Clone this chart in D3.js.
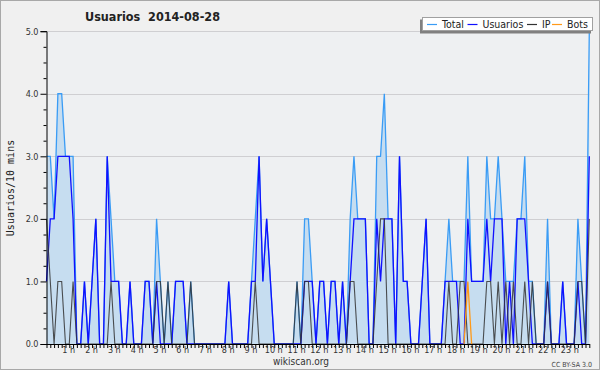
<!DOCTYPE html>
<html>
<head>
<meta charset="utf-8">
<script src="https://cdn.jsdelivr.net/npm/d3@7"></script>
<style>
  body { margin: 0; background: #f0f0f0; }
  svg { display: block; }
</style>
</head>
<body>
<div id="chart"></div>
<script>
// DATA: one value per 10 minutes, 144 slots from 00:00
const total = [3,3,2,4,4,3,3,3,0,0, 1,0,1,2,0,0,3,2,1,1, 0,0,1,0,0,0,1,1,0,2,
  1,0,1,0,1,1,1,0,1,0, 0,0,0,0,0,0,0,0,1,0, 0,0,0,0,1,2,3,1,2,1,
  0,0,0,0,0,0,1,0,2,2, 1,0,1,1,0,1,1,0,1,0, 2,3,2,2,2,0,0,3,3,4,
  2,2,0,3,1,1,0,0,0,1, 2,0,0,0,0,1,2,1,1,1, 1,3,1,1,1,1,3,2,2,3,
  2,1,1,1,2,2,3,1,1,0, 0,0,2,0,0,0,1,0,0,0, 2,1,0,5];
const usuarios = [1,2,2,3,3,3,3,2,0,0, 1,0,1,2,0,0,3,1,1,1, 0,0,1,0,0,0,1,1,0,1,
  0,0,0,0,1,1,1,0,0,0, 0,0,0,0,0,0,0,0,1,0, 0,0,0,0,1,1,3,1,2,1,
  0,0,0,0,0,0,0,0,1,1, 1,0,1,1,0,1,1,0,1,0, 1,2,2,2,2,0,0,2,1,2,
  2,2,0,3,1,1,0,0,0,1, 2,0,0,0,0,1,1,1,1,0, 0,2,1,1,1,1,2,1,2,2,
  2,0,1,0,2,2,2,1,0,0, 0,0,1,0,0,0,1,0,0,0, 1,0,0,3];
const ip = [2,1,0,1,1,0,0,1,0,0, 0,0,0,0,0,0,0,1,0,0, 0,0,0,0,0,0,0,0,0,1,
  1,0,1,0,0,0,0,0,1,0, 0,0,0,0,0,0,0,0,0,0, 0,0,0,0,0,1,0,0,0,0,
  0,0,0,0,0,0,1,0,1,1, 0,0,0,0,0,0,0,0,0,0, 1,1,0,0,0,0,0,1,2,2,
  0,0,0,0,0,0,0,0,0,0, 0,0,0,0,0,0,1,0,0,1, 1,0,0,0,0,0,1,1,0,1,
  0,1,0,1,0,0,1,0,1,0, 0,0,1,0,0,0,0,0,0,0, 1,1,0,2];
// bots: single non-zero slot (18:30)
const botsSlots = [110, 111, 112];
const botsValues = [0, 1, 0];
const hours = d3.range(1, 24);
const yTicks = [0, 1, 2, 3, 4, 5];
const legendItems = [
  { name: "Total", color: "#3a9cf5" },
  { name: "Usuarios", color: "#1010ff" },
  { name: "IP", color: "#333333" },
  { name: "Bots", color: "#ff9a1a" }
];

// SET GLOBAL VARIABLES
const W = 600, H = 370;
const plot = { left: 46.5, right: 589.3, top: 31.2, bottom: 344 };
const sans = "'DejaVu Sans Condensed', 'DejaVu Sans', sans-serif";

const svg = d3.select("#chart")
  .append("svg")
  .attr("width", W)
  .attr("height", H)
  .style("font-family", sans)
  .style("font-stretch", "condensed");

// background and frame
svg.append("rect").attr("width", W).attr("height", H).attr("fill", "#f0f0f0");
svg.append("rect")
  .attr("x", 0.5).attr("y", 0.5).attr("width", W - 1).attr("height", H - 1)
  .attr("fill", "none").attr("stroke", "#a8a8a8");
svg.append("rect")
  .attr("x", plot.left).attr("y", plot.top)
  .attr("width", plot.right - plot.left).attr("height", plot.bottom - plot.top)
  .attr("fill", "#eef0f2");

// Set scales
const x = d3.scaleLinear().domain([0, total.length - 1]).range([plot.left, plot.right]);
const y = d3.scaleLinear().domain([0, 5]).range([plot.bottom, plot.top]);

// grid lines
svg.append("g")
  .selectAll("line")
  .data(yTicks.filter(d => d > 0))
  .join("line")
  .attr("x1", plot.left).attr("x2", plot.right)
  .attr("y1", d => Math.round(y(d)) + 0.5).attr("y2", d => Math.round(y(d)) + 0.5)
  .attr("stroke", "#cfcfd2");

// Total area + lines
const idx = d3.range(total.length);
svg.append("path")
  .datum(idx)
  .attr("fill", "#c6ddf0")
  .attr("d", d3.area().x(i => x(i)).y0(y(0)).y1(i => y(total[i])));

const line = arr => d3.line().x(i => x(i)).y(i => y(arr[i]));

svg.append("path").datum(idx)
  .attr("fill", "none").attr("stroke", legendItems[0].color).attr("stroke-width", 1.3)
  .attr("d", line(total));
svg.append("path").datum(idx)
  .attr("fill", "none").attr("stroke", legendItems[1].color).attr("stroke-width", 1.3)
  .attr("d", line(usuarios));
svg.append("path").datum(idx)
  .attr("fill", "none").attr("stroke", legendItems[2].color).attr("stroke-width", 1.1)
  .attr("stroke-opacity", 0.85)
  .attr("d", line(ip));
svg.append("path").datum(d3.range(botsSlots.length))
  .attr("fill", "none").attr("stroke", legendItems[3].color).attr("stroke-width", 1.3)
  .attr("d", d3.line().x(k => x(botsSlots[k])).y(k => y(botsValues[k])));

// Draw Y axis
svg.append("g")
  .attr("transform", `translate(${plot.left},0)`)
  .call(d3.axisLeft(y).tickValues(yTicks).tickFormat(d3.format(".1f")).tickSize(6).tickPadding(2));
svg.append("g")
  .attr("transform", `translate(${plot.left},0)`)
  .call(d3.axisLeft(y).tickValues(d3.range(0, 5, 0.25).filter(d => d % 1 !== 0)).tickFormat("").tickSize(3))
  .call(g => g.select(".domain").remove());

// Draw X axis (10 min ticks + hour labels)
svg.append("g")
  .attr("transform", `translate(0,${plot.bottom})`)
  .call(d3.axisBottom(x).tickValues(idx).tickFormat("").tickSize(4).tickSizeOuter(0));
svg.append("g")
  .attr("transform", `translate(0,${plot.bottom})`)
  .call(d3.axisBottom(x).tickValues(hours.map(h => h * 6)).tickFormat(d => `${d / 6} h`).tickSize(0).tickPadding(3))
  .call(g => g.select(".domain").remove())
  .selectAll("text").attr("dx", -1);

svg.selectAll(".domain").attr("stroke", "#000");
svg.selectAll(".tick line").attr("stroke", "#000");
svg.selectAll(".tick text")
  .attr("fill", "#333")
  .style("font-size", "9px")
  .style("font-family", sans);

// Titles
svg.append("text")
  .attr("x", 85).attr("y", 21)
  .style("font-size", "12.5px").style("font-weight", "bold")
  .attr("fill", "#222")
  .attr("xml:space", "preserve")
  .text("Usuarios  2014-08-28");

svg.append("text")
  .attr("transform", "rotate(-90)")
  .attr("x", -188).attr("y", 14)
  .attr("text-anchor", "middle")
  .style("font-family", "'DejaVu Sans Mono', monospace").style("font-stretch", "normal")
  .style("font-size", "10px")
  .attr("fill", "#222")
  .text("Usuarios/10 mins");

svg.append("text")
  .attr("x", 301).attr("y", 365)
  .attr("text-anchor", "middle")
  .style("font-size", "10px").attr("fill", "#333")
  .text("wikiscan.org");

svg.append("text")
  .attr("x", 592).attr("y", 367)
  .attr("text-anchor", "end")
  .style("font-size", "7px").attr("fill", "#444")
  .text("CC BY-SA 3.0");

// Legend
const lg = svg.append("g");
lg.append("rect").attr("x", 420).attr("y", 19.5).attr("width", 171).attr("height", 14).attr("fill", "#808080");
lg.append("rect").attr("x", 422.5).attr("y", 17.5).attr("width", 170).attr("height", 13)
  .attr("fill", "#fff").attr("stroke", "#a0a0a0");
const legendX = [427, 467.5, 527, 552];
legendItems.forEach((d, i) => {
  lg.append("line")
    .attr("x1", legendX[i]).attr("x2", legendX[i] + 10)
    .attr("y1", 24.5).attr("y2", 24.5)
    .attr("stroke", d.color).attr("stroke-width", 1.2);
  lg.append("text")
    .attr("x", legendX[i] + 15).attr("y", 28)
    .style("font-size", "10.5px").attr("fill", "#222")
    .text(d.name);
});
</script>
</body>
</html>
